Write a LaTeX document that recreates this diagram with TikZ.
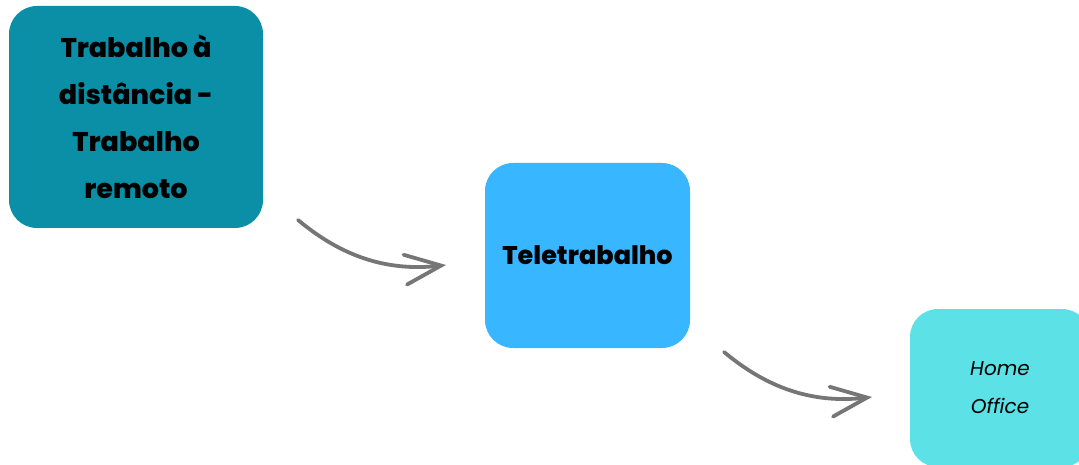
\documentclass[tikz,border=0pt]{standalone}
\usepackage{fontspec}
\setmainfont{Poppins}[BoldFont={Poppins ExtraBold}]
\usetikzlibrary{arrows.meta}
\definecolor{tealbox}{HTML}{0A8FA6}
\definecolor{bluebox}{HTML}{38B6FF}
\definecolor{cyanbox}{HTML}{5CE1E6}
\definecolor{arrowgray}{HTML}{767676}
\tikzset{
  card/.style={rounded corners=28pt, inner sep=0pt, align=center, text=black},
  flow/.style={draw=arrowgray, line width=3.8pt, line cap=round,
    -{Straight Barb[length=36pt, width=30pt, line cap=round]}},
}
\begin{document}
\begin{tikzpicture}[x=1pt, y=-1pt]
  \useasboundingbox (0,0) rectangle (1079,465);
  \clip (0,0) rectangle (1079,465);
  % the three cards
  \node[card, fill=tealbox, minimum width=254pt, minimum height=222pt,
        font=\bfseries\fontsize{27}{47}\selectfont] (remote) at (136,117)
    {Trabalho à\\distância -\\Trabalho\\remoto};
  \node[card, fill=bluebox, minimum width=205pt, minimum height=185pt,
        font=\bfseries\fontsize{25.5}{30}\selectfont] (tele) at (587.5,255.5)
    {Teletrabalho};
  \node[card, fill=cyanbox, minimum width=180pt, minimum height=158pt,
        font=\itshape\fontsize{20}{38}\selectfont] (home) at (1000,388)
    {Home\\Office};
  % arrow end points
  \coordinate (a1s) at (298,220);
  \coordinate (a1e) at (446,265);
  \coordinate (a2s) at (724,352);
  \coordinate (a2e) at (872,397);
  % curved arrows between the cards
  \draw[flow] (a1s) .. controls (340,255) and (385,272) .. (a1e);
  \draw[flow] (a2s) .. controls (766,387) and (811,404) .. (a2e);
\end{tikzpicture}
\end{document}
